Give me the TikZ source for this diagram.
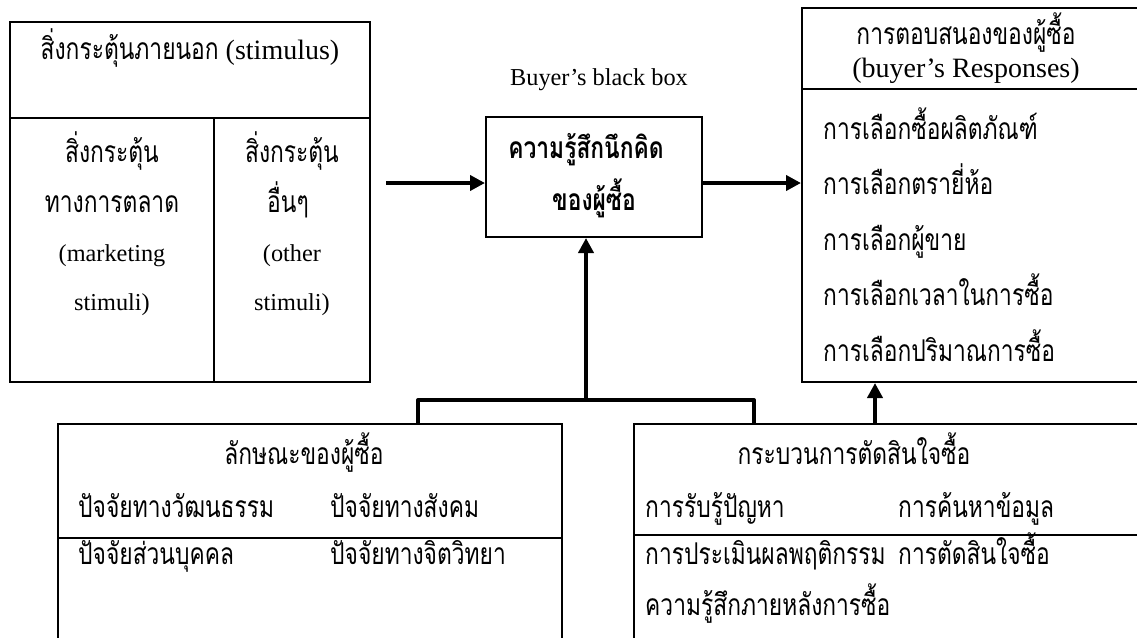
\documentclass[tikz,border=0pt]{standalone}
\usepackage{fontspec}
\setmainfont{Liberation Serif}
\newfontfamily\thai[Script=Thai, FakeStretch=0.76]{Loma}
\usetikzlibrary{arrows.meta}
\newcommand\thx[1]{{\thai\fontsize{30pt}{34pt}\selectfont #1}}
\begin{document}
\begin{tikzpicture}[x=1pt,y=-1pt,
  box/.style={draw, line width=2pt, rectangle, inner sep=0pt},
  th/.style={font=\thai\fontsize{30pt}{34pt}\selectfont, inner sep=0pt},
  thb/.style={font=\thai\bfseries\fontsize{30pt}{34pt}\selectfont, inner sep=0pt},
  lat/.style={font=\fontsize{24.3pt}{28pt}\selectfont, inner sep=0pt},
  lath/.style={font=\fontsize{28pt}{32pt}\selectfont, inner sep=0pt},
  arr/.style={line width=4pt, -{Triangle[length=15pt,width=15pt]}},
  conn/.style={line width=4pt, line join=round},
  div/.style={line width=2pt}]
\useasboundingbox (0,0) rectangle (1137,637);
\clip (0,0) rectangle (1137,637);
% boxes
\node[box, minimum width=360pt, minimum height=360pt] (stim) at (190,202) {};
\draw[div] (10,118) -- (370,118);
\draw[div] (214,118) -- (214,382);
\node[box, minimum width=216pt, minimum height=120pt] (bbox) at (594,177) {};
\node[box, minimum width=350pt, minimum height=374pt] (resp) at (977,195) {};
\draw[div] (802,89) -- (1152,89);
\node[box, minimum width=504pt, minimum height=240pt] (char) at (310,544) {};
\draw[div] (58,538) -- (562,538);
\node[box, minimum width=520pt, minimum height=240pt] (proc) at (894,544) {};
\draw[div] (634,535) -- (1154,535);
% texts: stimulus box
\node[lath, anchor=mid] (t1) at (190,57) {\thx{สิ่งกระตุ้นภายนอก} (stimulus)};
\node[th, anchor=mid] (t2) at (112,160) {สิ่งกระตุ้น};
\node[th, anchor=mid] (t3) at (112,210) {ทางการตลาด};
\node[lat, anchor=mid] (t4) at (112,259) {(marketing};
\node[lat, anchor=mid] (t5) at (112,308) {stimuli)};
\node[th, anchor=mid] (t6) at (292,160) {สิ่งกระตุ้น};
\node[th, anchor=mid] (t7) at (288,210) {อื่นๆ};
\node[lat, anchor=mid] (t8) at (292,259) {(other};
\node[lat, anchor=mid] (t9) at (292,308) {stimuli)};
% black box
\node[lat, anchor=mid] (bt) at (599,83) {Buyer’s black box};
\node[thb, anchor=mid] (b1) at (586,156) {ความรู้สึกนึกคิด};
\node[thb, anchor=mid] (b2) at (594,208) {ของผู้ซื้อ};
% responses
\node[th, anchor=mid] (r0) at (966,42) {การตอบสนองของผู้ซื้อ};
\node[lath, anchor=mid] (r00) at (966,75) {(buyer’s Responses)};
\node[th, anchor=mid west] (r1) at (823,137) {การเลือกซื้อผลิตภัณฑ์};
\node[th, anchor=mid west] (r2) at (823,192.5) {การเลือกตรายี่ห้อ};
\node[th, anchor=mid west] (r3) at (823,248) {การเลือกผู้ขาย};
\node[th, anchor=mid west] (r4) at (823,303.5) {การเลือกเวลาในการซื้อ};
\node[th, anchor=mid west] (r5) at (823,359) {การเลือกปริมาณการซื้อ};
% buyer characteristics
\node[th, anchor=mid] (c0) at (304,462) {ลักษณะของผู้ซื้อ};
\node[th, anchor=mid west] (c1) at (78,515) {ปัจจัยทางวัฒนธรรม};
\node[th, anchor=mid west] (c2) at (330,515) {ปัจจัยทางสังคม};
\node[th, anchor=mid west] (c3) at (78,562) {ปัจจัยส่วนบุคคล};
\node[th, anchor=mid west] (c4) at (330,562) {ปัจจัยทางจิตวิทยา};
% decision process
\node[th, anchor=mid] (d0) at (854,462) {กระบวนการตัดสินใจซื้อ};
\node[th, anchor=mid west] (d1) at (645,515) {การรับรู้ปัญหา};
\node[th, anchor=mid west] (d2) at (898,515) {การค้นหาข้อมูล};
\node[th, anchor=mid west] (d3) at (645,562) {การประเมินผลพฤติกรรม};
\node[th, anchor=mid west] (d4) at (898,562) {การตัดสินใจซื้อ};
\node[th, anchor=mid west] (d5) at (645,613) {ความรู้สึกภายหลังการซื้อ};
% connectors
\coordinate (in1) at (386,183);
\draw[arr] (in1) -- (in1 -| bbox.west);
\draw[arr] (bbox.east |- in1) -- (resp.west |- in1);
\coordinate (j1) at (586,400);
\coordinate (cl) at (418,400);
\coordinate (cr) at (754,400);
\draw[conn] (cl |- char.north) -- (cl) -- (cr) -- (cr |- proc.north);
\draw[arr] (j1) -- (j1 |- bbox.south);
\coordinate (p1) at (875,400);
\draw[arr] (p1 |- proc.north) -- (p1 |- resp.south);
\end{tikzpicture}
\end{document}
